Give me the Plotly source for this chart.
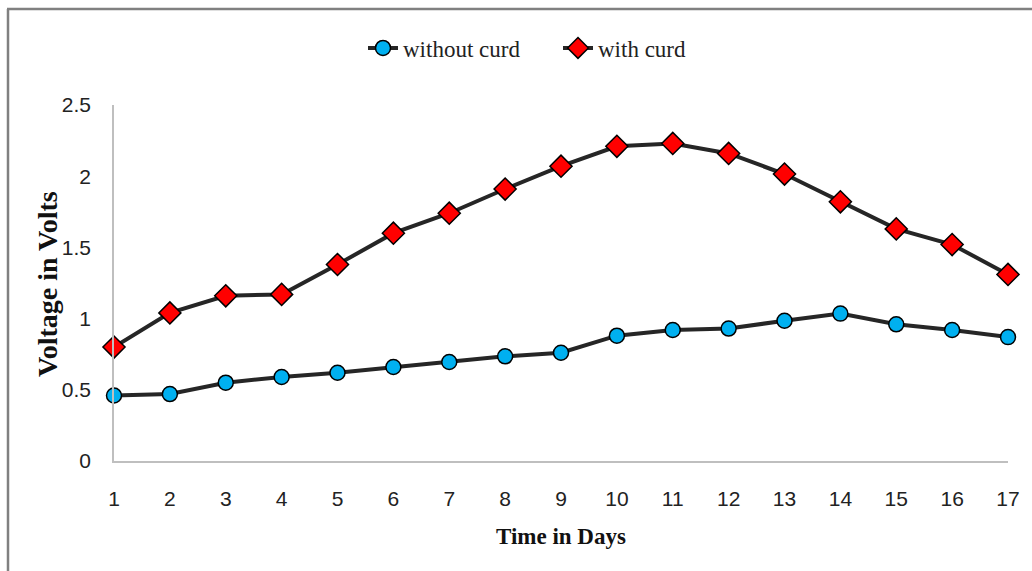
import plotly.graph_objects as go

# Measured output voltage per day
days = list(range(1, 18))
without_curd = [0.46, 0.47, 0.55, 0.59, 0.62, 0.66, 0.695, 0.735, 0.76,
                0.88, 0.92, 0.93, 0.985, 1.035, 0.96, 0.92, 0.87]
with_curd = [0.80, 1.04, 1.16, 1.17, 1.38, 1.60, 1.74, 1.91, 2.07,
             2.21, 2.23, 2.16, 2.015, 1.82, 1.63, 1.52, 1.31]
y_ticks = [0, 0.5, 1, 1.5, 2, 2.5]
y_tick_text = ["0", "0.5", "1", "1.5", "2", "2.5"]
x_title = "Time in Days"
y_title = "Voltage in Volts"

W, H = 1032, 571
L, R, T, B = 114, 24, 105, 110
plot_w = W - L - R
plot_h = H - T - B


def px_x(px):
    return (px - L) / plot_w


def px_y(py):
    return (H - B - py) / plot_h


line_style = dict(color="#262626", width=4)

fig = go.Figure()
fig.add_trace(go.Scatter(
    x=days, y=without_curd, name="without curd", mode="lines+markers",
    line=line_style,
    marker=dict(symbol="circle", size=15, color="#00B0F0",
                line=dict(color="#000000", width=1.5)),
    cliponaxis=False,
))
fig.add_trace(go.Scatter(
    x=days, y=with_curd, name="with curd", mode="lines+markers",
    line=line_style,
    marker=dict(symbol="diamond", size=17, color="#FF0000",
                line=dict(color="#000000", width=1.5)),
    cliponaxis=False,
))

tick_font = dict(family="Liberation Sans Narrow, Liberation Sans, sans-serif",
                 size=21, color="#222222")
serif = "Liberation Serif, serif"

fig.update_layout(
    width=W, height=H,
    margin=dict(l=L, r=R, t=T, b=B, autoexpand=False),
    paper_bgcolor="white", plot_bgcolor="white",
    showlegend=True,
    legend=dict(
        orientation="h", x=px_x(363), xanchor="left", y=px_y(48), yanchor="middle",
        font=dict(family=serif, size=23, color="#222222"),
        itemwidth=30, entrywidth=150, bgcolor="rgba(0,0,0,0)",
    ),
    xaxis=dict(
        range=[1, 17], tickmode="array", tickvals=days,
        ticktext=[str(d) for d in days],
        showgrid=False, zeroline=False,
        showline=True, linecolor="#BFBFBF", linewidth=1.5,
        ticks="", ticklabelstandoff=18, tickfont=tick_font,
    ),
    yaxis=dict(
        range=[0, 2.5], tickmode="array", tickvals=y_ticks, ticktext=y_tick_text,
        showgrid=False, zeroline=False,
        showline=True, linecolor="#BFBFBF", linewidth=1.5,
        ticks="", ticklabelstandoff=17, tickfont=tick_font,
    ),
    annotations=[
        dict(text=f"<b>{x_title}</b>", xref="paper", yref="paper",
             x=px_x(561), y=px_y(536), xanchor="center", yanchor="middle",
             showarrow=False, font=dict(family=serif, size=23, color="#111111")),
        dict(text=f"<b>{y_title}</b>", xref="paper", yref="paper",
             x=px_x(47), y=px_y(284), xanchor="center", yanchor="middle",
             textangle=-90, showarrow=False,
             font=dict(family=serif, size=28, color="#111111")),
    ],
    shapes=[
        dict(type="line", xref="paper", yref="paper",
             x0=px_x(7), x1=px_x(W + 5), y0=px_y(9), y1=px_y(9),
             line=dict(color="#808080", width=2.5)),
        dict(type="line", xref="paper", yref="paper",
             x0=px_x(8), x1=px_x(8), y0=px_y(9), y1=px_y(H + 5),
             line=dict(color="#808080", width=2.5)),
    ],
)

fig.write_html("out.html")
